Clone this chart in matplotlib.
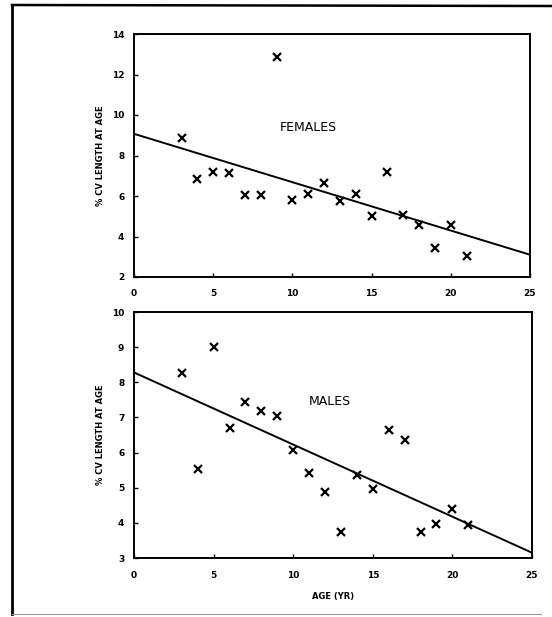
import matplotlib
matplotlib.use("Agg")
import matplotlib.pyplot as plt
from matplotlib.lines import Line2D

# ages (years)
ages = [3, 4, 5, 6, 7, 8, 9, 10, 11, 12, 13, 14, 15, 16, 17, 18, 19, 20, 21]

# % CV of length at age
females_cv = [8.87, 6.83, 7.19, 7.13, 6.04, 6.06, 12.88, 5.79, 6.12, 6.65,
              5.74, 6.12, 5.02, 7.18, 5.08, 4.56, 3.45, 4.59, 3.06]
males_cv = [8.27, 5.52, 9.01, 6.70, 7.43, 7.18, 7.04, 6.08, 5.43, 4.88,
            3.74, 5.35, 4.97, 6.65, 6.35, 3.75, 3.98, 4.40, 3.95]

# fitted regression lines (value at age 0 and at age 25)
fit_x = [0, 25]
females_fit = [9.07, 3.10]
males_fit = [8.28, 3.15]

fig = plt.figure(figsize=(5.52, 6.17), dpi=100)

# outer frame around the figure
fig.add_artist(Line2D([12/552, 12/552], [1 - 5/617, 1 - 614/617],
                      transform=fig.transFigure, color='black', lw=2))
fig.add_artist(Line2D([12/552, 1.0], [1 - 5/617, 1 - 6/617],
                      transform=fig.transFigure, color='black', lw=1.8))
fig.add_artist(Line2D([12/552, 0.98], [1 - 614/617, 1 - 614/617],
                      transform=fig.transFigure, color='#999999', lw=0.8))


def make_panel(rect, cv, fit, ylim, yticks, label, label_xy):
    ax = fig.add_axes(rect)
    ax.plot(ages, cv, 'x', color='black', markersize=5.5, markeredgewidth=1.6)
    ax.plot(fit_x, fit, color='black', lw=1.4)
    ax.set_xlim(0, 25)
    ax.set_ylim(*ylim)
    ax.set_xticks([0, 5, 10, 15, 20, 25])
    ax.set_yticks(yticks)
    ax.tick_params(direction='in', length=3, width=1, labelsize=6.5)
    ax.tick_params(axis='x', pad=9)
    ax.tick_params(axis='y', pad=7)
    for t in ax.get_xticklabels() + ax.get_yticklabels():
        t.set_fontweight('bold')
    for s in ax.spines.values():
        s.set_linewidth(1.4)
    ax.set_ylabel('% CV LENGTH AT AGE', fontsize=6, fontweight='bold', labelpad=5)
    ax.text(label_xy[0], label_xy[1], label, fontsize=9, ha='center', va='center')
    return ax


top = make_panel([134/552, 1 - 277/617, 396/552, 243/617], females_cv,
                 females_fit, (2, 14), [2, 4, 6, 8, 10, 12, 14], 'FEMALES', (11.0, 9.4))
bottom = make_panel([134/552, 1 - 558/617, 398/552, 246/617], males_cv,
                    males_fit, (3, 10), [3, 4, 5, 6, 7, 8, 9, 10], 'MALES', (12.3, 7.45))
bottom.set_xlabel('AGE (YR)', fontsize=6, fontweight='bold', labelpad=9)

fig.savefig('out.png', dpi=100)
